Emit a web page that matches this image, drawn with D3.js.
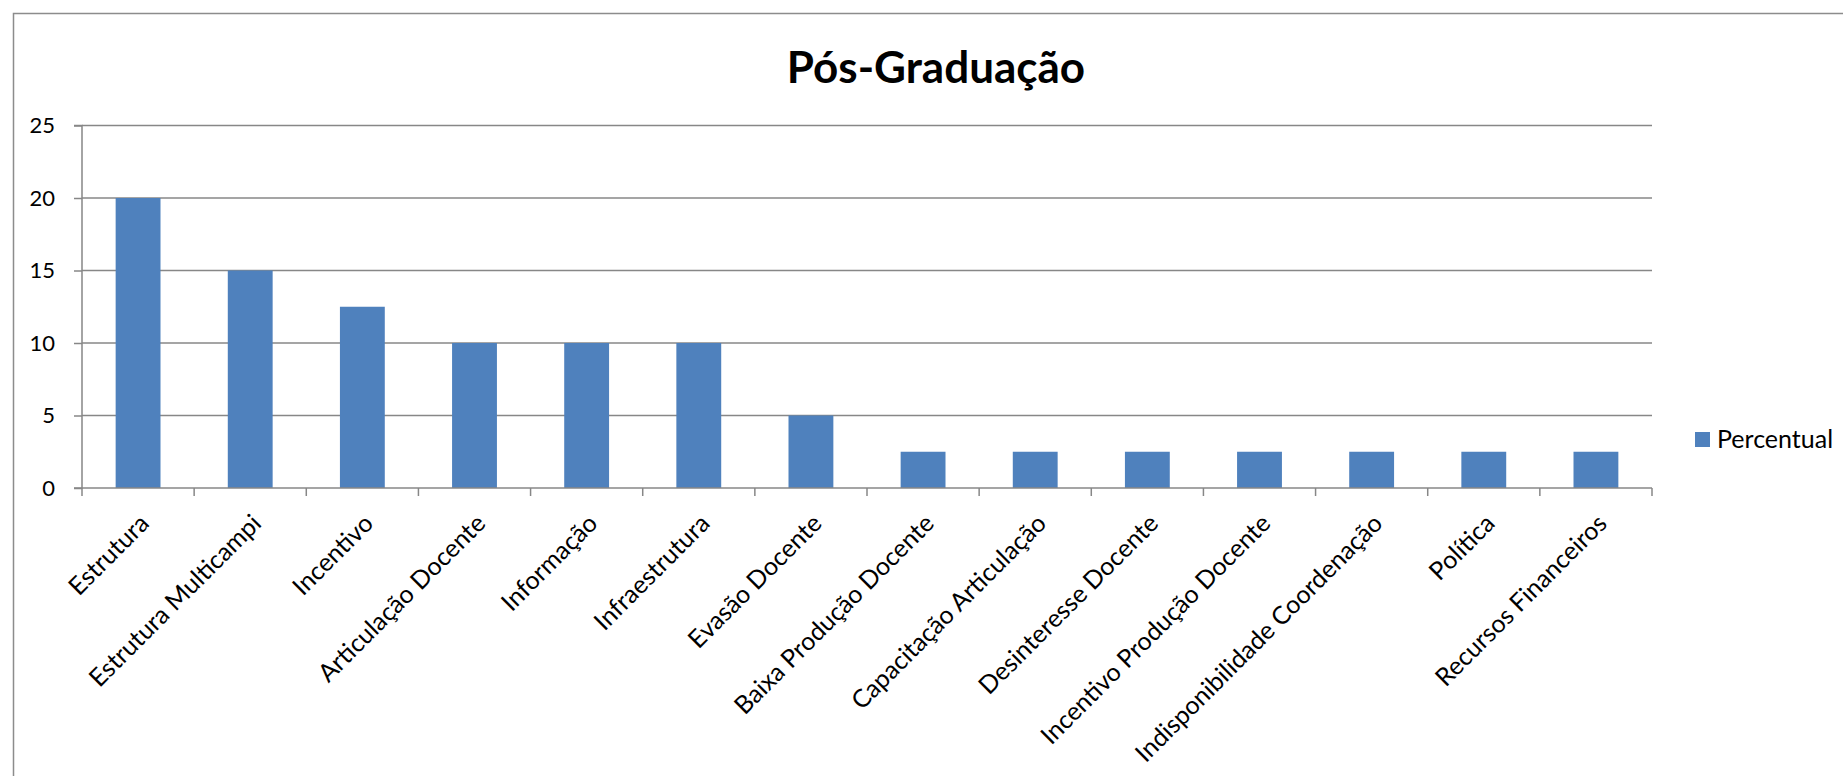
<!DOCTYPE html>
<html>
<head>
<meta charset="utf-8">
<script src="https://cdn.jsdelivr.net/npm/d3@7"></script>
<style>
  html, body { margin: 0; padding: 0; background: #fff; }
  svg { display: block; }
  text { font-family: Lato, "Noto Sans", sans-serif; fill: #000; }
</style>
</head>
<body>
<svg id="chart"></svg>
<script>
const categories = [
  "Estrutura", "Estrutura Multicampi", "Incentivo", "Articulação Docente",
  "Informação", "Infraestrutura", "Evasão Docente", "Baixa Produção Docente",
  "Capacitação Articulação", "Desinteresse Docente", "Incentivo Produção Docente",
  "Indisponibilidade Coordenação", "Política", "Recursos Financeiros"
];
const percentual = [20, 15, 12.5, 10, 10, 10, 5, 2.5, 2.5, 2.5, 2.5, 2.5, 2.5, 2.5];
const yTicks = [0, 5, 10, 15, 20, 25];
const seriesName = "Percentual";
const chartTitle = "Pós-Graduação";

const width = 1843, height = 776;
const margin = { top: 125.5, right: 191, bottom: 288, left: 82 };
const plotW = width - margin.left - margin.right;
const plotH = height - margin.top - margin.bottom;
const barColor = "#4F81BD";
const gridColor = "#878787";

const svg = d3.select("#chart")
  .attr("width", width)
  .attr("height", height);

// outer chart frame (runs off the right / bottom edge in the original)
svg.append("rect")
  .attr("x", 13.5).attr("y", 13.5)
  .attr("width", width + 20).attr("height", height + 20)
  .attr("fill", "none")
  .attr("stroke", "#8c8c8c")
  .attr("stroke-width", 1.5);

svg.append("text")
  .attr("x", 936)
  .attr("y", 83)
  .attr("text-anchor", "middle")
  .style("font-size", "44px")
  .style("font-weight", "bold")
  .text(chartTitle);

const chart = svg.append("g")
  .attr("transform", `translate(${margin.left}, ${margin.top})`);

const xCat = d3.scaleBand()
  .domain(categories)
  .range([0, plotW])
  .padding(0);

const xBar = d3.scaleBand()
  .domain(categories)
  .range([0, plotW])
  .paddingInner(0.6)
  .paddingOuter(0.3);

const yScale = d3.scaleLinear()
  .domain([0, 25])
  .range([plotH, 0]);

// horizontal gridlines
chart.append("g")
  .selectAll("line")
  .data(yTicks.filter(d => d > 0))
  .enter()
  .append("line")
  .attr("x1", 0).attr("x2", plotW)
  .attr("y1", d => yScale(d)).attr("y2", d => yScale(d))
  .attr("stroke", gridColor)
  .attr("stroke-width", 1.5);

// bars
chart.append("g")
  .selectAll("rect")
  .data(percentual)
  .enter()
  .append("rect")
  .attr("x", (d, i) => xBar(categories[i]))
  .attr("y", d => yScale(d))
  .attr("width", xBar.bandwidth())
  .attr("height", d => yScale(0) - yScale(d))
  .attr("fill", barColor);

// y axis
const yAxis = chart.append("g")
  .call(d3.axisLeft(yScale).tickValues(yTicks).tickSize(8).tickPadding(19));
yAxis.selectAll("line, path").attr("stroke", gridColor).attr("stroke-width", 1.5);
yAxis.select(".domain").attr("d", `M-8,0H0V${plotH}H-8`);
yAxis.selectAll("text")
  .style("font-family", "Lato, sans-serif")
  .style("font-size", "22px")
  .attr("fill", "#000");

// x axis: ticks at category boundaries, labels rotated
const xAxis = chart.append("g")
  .attr("transform", `translate(0, ${plotH})`);
xAxis.append("line")
  .attr("x1", 0).attr("x2", plotW)
  .attr("stroke", gridColor).attr("stroke-width", 1.5);
xAxis.selectAll(".tick")
  .data(categories.map(c => xCat(c)).concat([plotW]))
  .enter()
  .append("line")
  .attr("x1", d => d).attr("x2", d => d)
  .attr("y1", 0).attr("y2", 8)
  .attr("stroke", gridColor).attr("stroke-width", 1.5);
xAxis.selectAll(".label")
  .data(categories)
  .enter()
  .append("text")
  .attr("text-anchor", "end")
  .style("font-size", "25px")
  .attr("transform", d => `translate(${xCat(d) + xCat.bandwidth() / 2 + 12.5}, 37) rotate(-45)`)
  .text(d => d);

// legend
const legend = svg.append("g")
  .attr("transform", "translate(1695, 432)");
legend.append("rect")
  .attr("width", 15).attr("height", 15)
  .attr("fill", barColor);
legend.append("text")
  .attr("x", 22)
  .attr("y", 16)
  .style("font-size", "25px")
  .text(seriesName);
</script>
</body>
</html>
